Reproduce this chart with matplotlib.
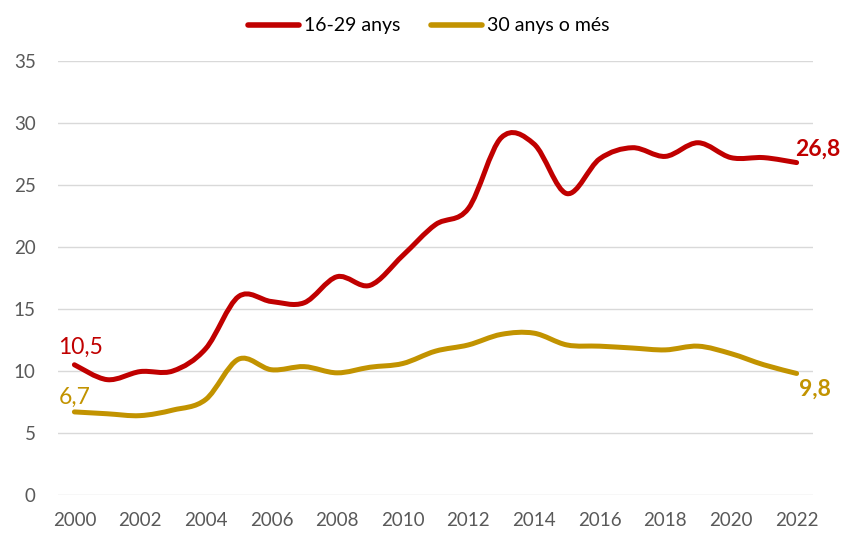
import numpy as np
import matplotlib
matplotlib.use("Agg")
import matplotlib.pyplot as plt
from matplotlib.path import Path
from matplotlib.patches import PathPatch
from matplotlib.lines import Line2D

years = list(range(2000, 2023))
young = [10.5, 9.3, 9.95, 10.0, 11.8, 16.0, 15.6, 15.5, 17.6, 16.9, 19.3, 21.8, 23.1,
         28.8, 28.3, 24.3, 27.1, 28.0, 27.3, 28.4, 27.2, 27.2, 26.8]
older = [6.7, 6.55, 6.4, 6.85, 7.7, 10.95, 10.1, 10.35, 9.85, 10.3, 10.6, 11.6, 12.1,
         12.95, 13.05, 12.1, 12.0, 11.85, 11.7, 12.0, 11.4, 10.5, 9.8]
series_names = ["16-29 anys", "30 anys o més"]
colors = ["#C00000", "#C29300"]
yticks = [0, 5, 10, 15, 20, 25, 30, 35]
xticks = list(range(2000, 2023, 2))

plt.rcParams['font.family'] = ['Lato', 'DejaVu Sans']


def smooth_path(x, y, t=1 / 6):
    """Cubic Bezier path through the points (Catmull-Rom style smoothing)."""
    x = np.asarray(x, float)
    y = np.asarray(y, float)
    n = len(x)
    verts = [(x[0], y[0])]
    codes = [Path.MOVETO]
    for i in range(n - 1):
        i0 = max(i - 1, 0)
        i3 = min(i + 2, n - 1)
        c1 = (x[i] + (x[i + 1] - x[i0]) * t, y[i] + (y[i + 1] - y[i0]) * t)
        c2 = (x[i + 1] - (x[i3] - x[i]) * t, y[i + 1] - (y[i3] - y[i]) * t)
        verts += [c1, c2, (x[i + 1], y[i + 1])]
        codes += [Path.CURVE4] * 3
    return Path(verts, codes)


def fmt(v):
    return f"{v:.1f}".replace(".", ",")


fig = plt.figure(figsize=(8.44, 5.34), dpi=100)
ax = fig.add_axes([0.0687, 0.073, 0.8946, 0.813])

for vals, col in zip([young, older], colors):
    p = PathPatch(smooth_path(years, vals), facecolor="none", edgecolor=col,
                  lw=3.6, capstyle="round", joinstyle="round", zorder=3)
    ax.add_patch(p)

ax.set_xlim(1999.5, 2022.5)
ax.set_ylim(0, 35)
ax.set_yticks(yticks)
ax.set_xticks(xticks)
ax.set_xticklabels([str(v) for v in xticks])
ax.set_yticklabels([str(v) for v in yticks])
ax.tick_params(axis="both", length=0, labelsize=13.5, colors="#595959")
ax.tick_params(axis="y", pad=16)
ax.tick_params(axis="x", pad=12)
ax.grid(axis="y", color="#D9D9D9", lw=1)
ax.set_axisbelow(True)
for s in ax.spines.values():
    s.set_visible(False)

# end labels
ax.annotate(fmt(young[0]), (years[0], young[0]),
            xytext=(-12, 5), textcoords="offset points", ha="left", va="bottom",
            color=colors[0], fontsize=16.5)
ax.annotate(fmt(older[0]), (years[0], older[0]),
            xytext=(-11, 3), textcoords="offset points", ha="left", va="bottom",
            color=colors[1], fontsize=16.5)
ax.annotate(fmt(young[-1]), (years[-1], young[-1]),
            xytext=(-1, 2), textcoords="offset points", ha="left", va="bottom",
            color=colors[0], fontsize=16.5, fontweight="bold")
ax.annotate(fmt(older[-1]), (years[-1], older[-1]),
            xytext=(2, -4), textcoords="offset points", ha="left", va="top",
            color=colors[1], fontsize=16.5, fontweight="bold")

handles = [Line2D([], [], color=c, lw=4, solid_capstyle="round") for c in colors]
fig.legend(handles, series_names, loc="upper center", bbox_to_anchor=(0.508, 1.0),
           ncol=2, frameon=False, fontsize=14, handlelength=2.6,
           handletextpad=0.25, columnspacing=1.6, labelcolor="#000000")

fig.savefig("out.png", dpi=100)
